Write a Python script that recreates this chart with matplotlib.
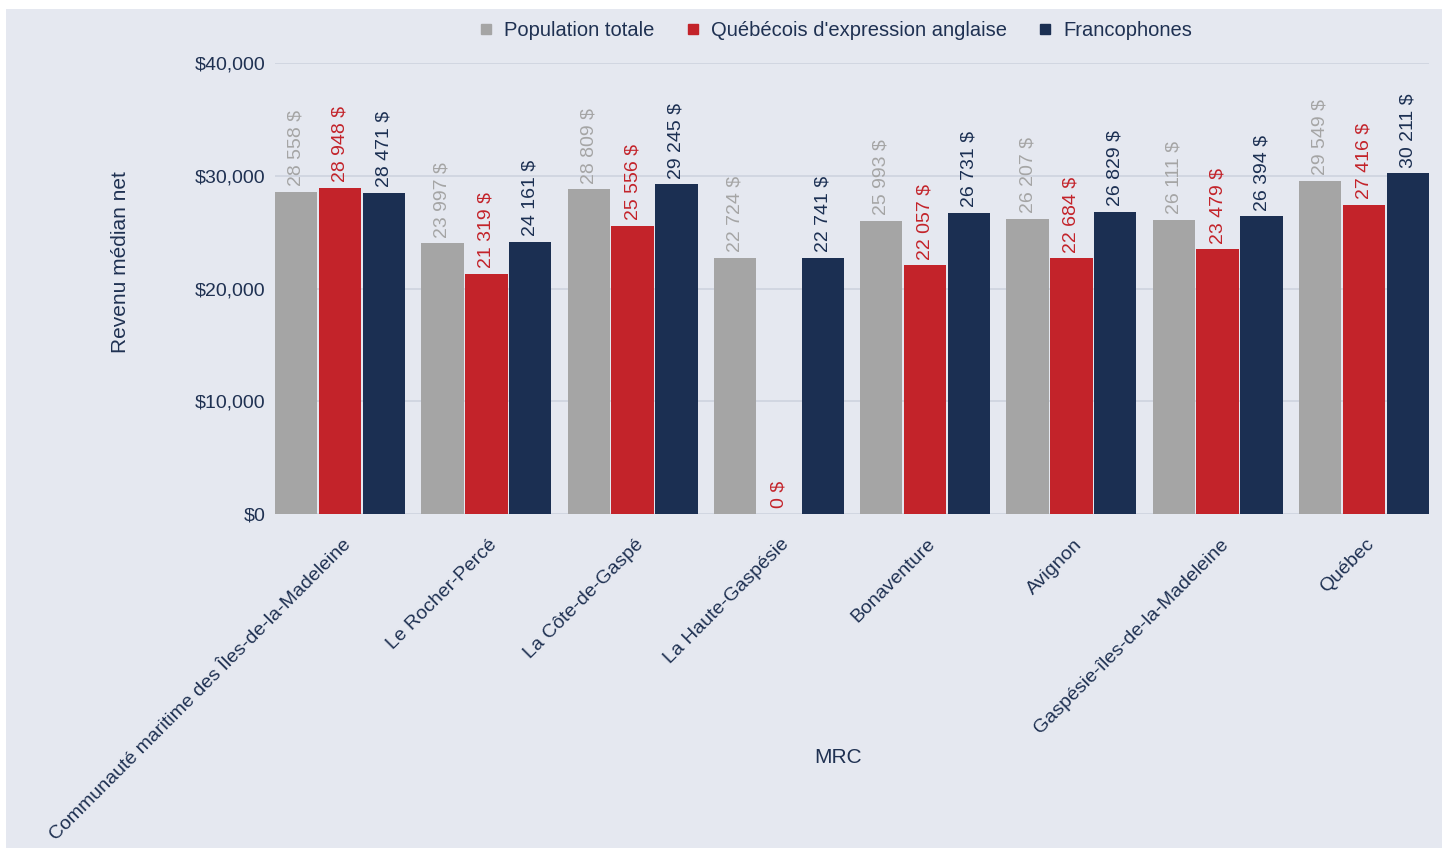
import matplotlib

matplotlib.use("Agg")
import matplotlib.pyplot as plt
import matplotlib.transforms as mtransforms
import numpy as np
from matplotlib.lines import Line2D
from matplotlib.patches import Rectangle
from matplotlib.ticker import FuncFormatter

plt.rcParams["font.family"] = ["Liberation Sans", "DejaVu Sans"]

CATEGORIES = [
    "Communauté maritime des Îles-de-la-Madeleine",
    "Le Rocher-Percé",
    "La Côte-de-Gaspé",
    "La Haute-Gaspésie",
    "Bonaventure",
    "Avignon",
    "Gaspésie-îles-de-la-Madeleine",
    "Québec",
]
SERIES = ["Population totale", "Québécois d'expression anglaise", "Francophones"]
POP_TOTALE = [28558, 23997, 28809, 22724, 25993, 26207, 26111, 29549]
ANGLAIS = [28948, 21319, 25556, 0, 22057, 22684, 23479, 27416]
FRANCO = [28471, 24161, 29245, 22741, 26731, 26829, 26394, 30211]

COLORS = ["#a5a5a5", "#c3232a", "#1b2f52"]
TEXT = "#1f3152"
BG = "#e5e8f0"


def money_fr(v):
    return f"{v:,}".replace(",", " ") + " $"


fig = plt.figure(figsize=(14.47, 8.5), dpi=100)
fig.patch.set_facecolor("white")
fig.patches.append(Rectangle((6 / 1447, 2 / 850), 1436 / 1447, 839 / 850,
                             transform=fig.transFigure, facecolor=BG,
                             edgecolor="none", zorder=-10))

W, H = 1447, 850
ax = fig.add_axes([275 / W, 1 - 514 / H, (1429 - 275) / W, (514 - 63) / H])
ax.set_facecolor(BG)

x = np.arange(len(CATEGORIES))
offsets = [-0.3, 0.0, 0.3]
width = 0.29
for vals, off, col in zip([POP_TOTALE, ANGLAIS, FRANCO], offsets, COLORS):
    bars = ax.bar(x + off, vals, width, color=col, zorder=3)
    for b, v in zip(bars, vals):
        ax.annotate(money_fr(v), (b.get_x() + b.get_width() / 2, v),
                    xytext=(0, 4), textcoords="offset points",
                    rotation=90, ha="center", va="bottom",
                    fontsize=14, color=col, zorder=4)

ax.set_xlim(-0.3 - width / 2, 7.3 + width / 2)
ax.set_ylim(0, 40000)
ax.set_yticks([0, 10000, 20000, 30000, 40000])
ax.yaxis.set_major_formatter(FuncFormatter(lambda v, p: f"${int(v):,}"))
ax.grid(axis="y", color="#cdd3de", linewidth=1.2, zorder=0)
for s in ax.spines.values():
    s.set_visible(False)
ax.tick_params(axis="y", length=0, pad=7, labelsize=14, labelcolor=TEXT)
ax.tick_params(axis="x", length=0, pad=20, labelsize=14, labelcolor=TEXT)

ax.set_xticks(x)
ax.set_xticklabels(CATEGORIES, rotation=45, ha="right", va="center",
                   rotation_mode="anchor")
shift = mtransforms.ScaledTranslation(8 / 100, 0, fig.dpi_scale_trans)
for lab in ax.get_xticklabels():
    lab.set_transform(lab.get_transform() + shift)

ax.set_ylabel("Revenu médian net", fontsize=15, color=TEXT)
ax.yaxis.set_label_coords(-0.126, 0.558)
ax.set_xlabel("MRC", fontsize=15, color=TEXT)
ax.xaxis.set_label_coords(0.488, -0.519)

handles = [Line2D([], [], marker="s", linestyle="none", markersize=7,
                  markerfacecolor=c, markeredgecolor=c) for c in COLORS]
fig.legend(handles, SERIES, loc="center", bbox_to_anchor=(0.577, 1 - 31 / H),
           ncol=3, frameon=False, fontsize=14.5, handlelength=0.8,
           handletextpad=0.5, columnspacing=1.5, labelcolor=TEXT)

fig.savefig("out.png", dpi=100, facecolor=fig.get_facecolor())
